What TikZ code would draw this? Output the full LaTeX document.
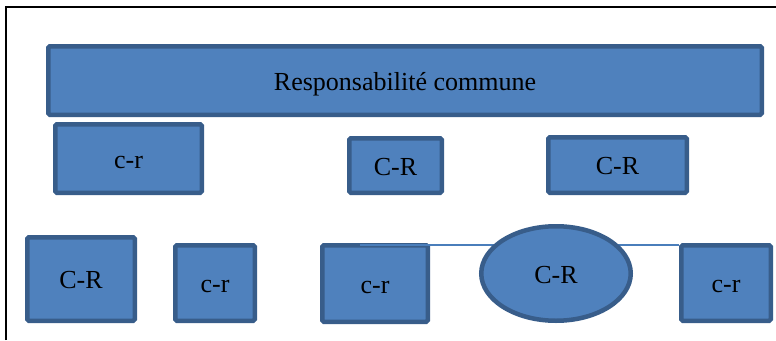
\documentclass[tikz,border=0pt]{standalone}
\usepackage{fontspec}
\setmainfont{Liberation Serif}
\usetikzlibrary{shapes.geometric}
\definecolor{boxfill}{HTML}{4F81BD}
\definecolor{boxedge}{HTML}{385D8A}
\definecolor{connline}{HTML}{4A7EBB}
\begin{document}
\begin{tikzpicture}[x=1pt,y=-1pt,
  box/.style={draw=boxedge, fill=boxfill, line width=4.5pt, rounded corners=1.5pt,
    inner sep=0pt, font=\fontsize{26}{30}\selectfont, text height=22pt, text depth=3pt},
  oval/.style={ellipse, draw=boxedge, fill=boxfill, line width=4.5pt, inner sep=0pt,
    font=\fontsize{26}{30}\selectfont, text height=22pt, text depth=3pt},
  conn/.style={draw=connline, line width=1.5pt},
  frameline/.style={black, line width=2pt}]
\useasboundingbox (0,0) rectangle (776,340);
\fill[white] (0,0) rectangle (776,340);
\draw[frameline] (6,340) -- (6,7) -- (776,7);

\node[box, minimum width=713.5pt, minimum height=68.5pt] (resp) at (405,80.5) {Responsabilité commune};
\node[box, minimum width=146.5pt, minimum height=68.5pt] (cr1) at (128.5,158.5) {c-r};
\node[box, minimum width=92.5pt, minimum height=54.5pt] (CR2) at (395.5,165.5) {C-R};
\node[box, minimum width=138.5pt, minimum height=55.5pt] (CR3) at (617.5,165) {C-R};
\node[box, minimum width=107.5pt, minimum height=83.5pt] (CR4) at (81,279) {C-R};
\node[box, minimum width=79.5pt, minimum height=75.5pt] (cr5) at (215,283) {c-r};
\node[box, minimum width=105.5pt, minimum height=76.5pt] (cr6) at (375,283.5) {c-r};
\node[box, minimum width=89.5pt, minimum height=75.5pt] (cr7) at (726,283) {c-r};

\coordinate (lstart) at (360,245);
\draw[conn] (lstart) -- (lstart -| cr7.west);

\node[oval, minimum width=149.5pt, minimum height=94.5pt] (CR8) at (556,273.5) {C-R};
\end{tikzpicture}
\end{document}
